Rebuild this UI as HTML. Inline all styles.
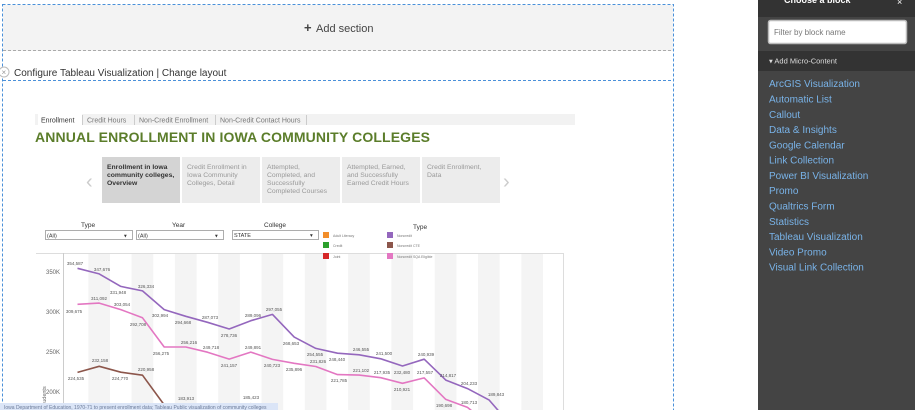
<!DOCTYPE html>
<html><head><meta charset="utf-8"><style>
body{margin:0;width:915px;height:410px;overflow:hidden;background:#fff;font-family:"Liberation Sans",sans-serif}
svg{display:block}
</style></head><body>
<svg width="915" height="410" viewBox="0 0 915 410" xmlns="http://www.w3.org/2000/svg" font-family="Liberation Sans, sans-serif">
<rect x="0" y="0" width="675" height="410" fill="#fff"/>
<rect x="3" y="5" width="670" height="46" fill="#f3f3f3"/>
<rect x="2.5" y="4.5" width="671" height="410" fill="none" stroke="#4a90d9" stroke-dasharray="3,2"/>
<line x1="3" y1="50.5" x2="673" y2="50.5" stroke="#aaa" stroke-dasharray="3,2"/>
<line x1="3" y1="80.5" x2="673" y2="80.5" stroke="#4a90d9" stroke-dasharray="3,2"/>
<text x="304" y="32" font-size="13" fill="#444" font-weight="bold">+</text>
<text x="316" y="32" font-size="11" fill="#444">Add section</text>
<circle cx="4" cy="72" r="5" fill="#fff" stroke="#bbb"/>
<text x="1.5" y="75" font-size="8" fill="#999">×</text>
<text x="14" y="76" font-size="10" fill="#333">Configure Tableau Visualization | Change layout</text>
<rect x="35" y="114" width="540" height="11" fill="#f2f2f2"/>
<rect x="38" y="114" width="44" height="11" fill="#fff"/>
<text x="41" y="122.5" font-size="7" fill="#333">Enrollment</text>
<line x1="82.5" y1="115" x2="82.5" y2="125" stroke="#ccc"/>
<text x="87" y="122.5" font-size="7" fill="#777">Credit Hours</text>
<line x1="134.5" y1="115" x2="134.5" y2="125" stroke="#ccc"/>
<text x="139" y="122.5" font-size="7" fill="#777">Non-Credit Enrollment</text>
<line x1="215.5" y1="115" x2="215.5" y2="125" stroke="#ccc"/>
<text x="220" y="122.5" font-size="7" fill="#777">Non-Credit Contact Hours</text>
<line x1="306.5" y1="115" x2="306.5" y2="125" stroke="#ccc"/>
<text x="35" y="142" font-size="14" font-weight="bold" fill="#5b7d2a" textLength="395">ANNUAL ENROLLMENT IN IOWA COMMUNITY COLLEGES</text>
<text x="86" y="188" font-size="20" fill="#ccc">‹</text>
<text x="503" y="188" font-size="20" fill="#ccc">›</text>
<rect x="102" y="157" width="78" height="46" fill="#d4d4d4"/>
<rect x="182" y="157" width="78" height="46" fill="#ececec"/>
<rect x="262" y="157" width="78" height="46" fill="#ececec"/>
<rect x="342" y="157" width="78" height="46" fill="#ececec"/>
<rect x="422" y="157" width="78" height="46" fill="#ececec"/>
<g font-size="6.8">
<text fill="#333" font-weight="bold"><tspan x="107" y="169">Enrollment in Iowa</tspan><tspan x="107" y="177">community colleges,</tspan><tspan x="107" y="185">Overview</tspan></text>
<text fill="#999"><tspan x="187" y="169">Credit Enrollment in</tspan><tspan x="187" y="177">Iowa Community</tspan><tspan x="187" y="185">Colleges, Detail</tspan></text>
<text fill="#999"><tspan x="267" y="169">Attempted,</tspan><tspan x="267" y="177">Completed, and</tspan><tspan x="267" y="185">Successfully</tspan><tspan x="267" y="193">Completed Courses</tspan></text>
<text fill="#999"><tspan x="347" y="169">Attempted, Earned,</tspan><tspan x="347" y="177">and Successfully</tspan><tspan x="347" y="185">Earned Credit Hours</tspan></text>
<text fill="#999"><tspan x="427" y="169">Credit Enrollment,</tspan><tspan x="427" y="177">Data</tspan></text>
</g>
<g font-size="6.5" fill="#333">
<text x="81" y="227">Type</text><text x="172" y="227">Year</text><text x="264" y="227">College</text><text x="413" y="229">Type</text>
</g>
<g fill="#fff" stroke="#999" stroke-width="0.8">
<rect x="45.5" y="230.5" width="87" height="9"/><rect x="136.5" y="230.5" width="87" height="9"/><rect x="232.5" y="230.5" width="86" height="9"/>
</g>
<g font-size="5.5" fill="#333">
<text x="47" y="237.5">(All)</text><text x="138" y="237.5">(All)</text><text x="234" y="237">STATE</text>
<text x="124" y="237.5">▾</text><text x="215" y="237.5">▾</text><text x="310" y="237">▾</text>
</g>
<line x1="36" y1="253.5" x2="564" y2="253.5" stroke="#ddd"/>
<line x1="563.5" y1="253" x2="563.5" y2="410" stroke="#ddd"/>
<line x1="63.5" y1="253" x2="63.5" y2="410" stroke="#ccc"/>
<g fill="#f4f4f4">
<rect x="88.3" y="254" width="21.7" height="156"/><rect x="131.6" y="254" width="21.7" height="156"/><rect x="174.9" y="254" width="21.7" height="156"/><rect x="218.2" y="254" width="21.7" height="156"/><rect x="261.5" y="254" width="21.7" height="156"/><rect x="304.8" y="254" width="21.7" height="156"/><rect x="348.1" y="254" width="21.7" height="156"/><rect x="391.4" y="254" width="21.7" height="156"/><rect x="434.7" y="254" width="21.7" height="156"/><rect x="478" y="254" width="21.7" height="156"/><rect x="521.3" y="254" width="21.7" height="156"/>
</g>
<g font-size="3.5" fill="#777">
<rect x="323" y="232" width="6" height="6" fill="#f28e2b"/><text x="333" y="237">Adult Literacy</text>
<rect x="323" y="242" width="6" height="6" fill="#2ca02c"/><text x="333" y="247">Credit</text>
<rect x="323" y="253" width="6" height="6" fill="#d62728"/><text x="333" y="258">Joint</text>
<rect x="387" y="232" width="6" height="6" fill="#9467bd"/><text x="397" y="237">Noncredit</text>
<rect x="387" y="242" width="6" height="6" fill="#8c564b"/><text x="397" y="247">Noncredit CTE</text>
<rect x="387" y="253" width="6" height="6" fill="#e377c2"/><text x="397" y="258">Noncredit SQA Eligible</text>
</g>
<g font-size="6" fill="#666" text-anchor="end">
<text x="60" y="274">350K</text><text x="60" y="314">300K</text><text x="60" y="354">250K</text><text x="60" y="394">200K</text>
</g>
<text transform="translate(46,408) rotate(-90)" font-size="5.5" fill="#666">Students</text>
<g fill="none" stroke-width="1.6" stroke-linejoin="round">
<polyline stroke="#9467bd" points="77.5,268.3 99.2,273.9 120.8,286.4 142.5,290.9 164.2,309.6 185.8,316.3 207.5,322.3 229.2,329 250.8,320.7 272.5,314.4 294.2,337.1 315.8,348.4 337.5,353.2 359.2,354.8 380.8,358.8 402.5,366 424.2,359.2 445.8,380.1 467.5,388.6 489.2,400.1 510.8,425"/>
<polyline stroke="#e377c2" points="77.5,304.3 99.2,303.1 120.8,309.6 142.5,317.8 164.2,347 185.8,347 207.5,352.2 229.2,359.1 250.8,352.1 272.5,359.4 294.2,363.3 315.8,366.5 337.5,374.6 359.2,375.1 380.8,377.7 402.5,383.3 424.2,377.9 445.8,399.4 467.5,407.4 489.2,425"/>
<polyline stroke="#8c564b" points="77.5,372.4 99.2,366.3 120.8,372.2 142.5,375.2 164.2,404.9 185.8,404.9 207.5,420 229.2,420 250.8,403.7 272.5,420"/>
</g>
<g font-size="4.5" fill="#555" text-anchor="middle">
<text x="75" y="265">354,587</text><text x="102" y="271">347,676</text><text x="118" y="294">331,948</text><text x="146" y="288">326,334</text><text x="160" y="317">302,994</text><text x="183" y="324">294,668</text><text x="210" y="319">287,073</text><text x="229" y="337">278,736</text><text x="253" y="317">289,096</text><text x="274" y="311">297,055</text><text x="291" y="345">268,653</text><text x="315" y="356">254,555</text><text x="337" y="361">248,440</text><text x="361" y="351">246,555</text><text x="384" y="355">241,500</text><text x="402" y="374">232,480</text><text x="426" y="356">240,939</text><text x="448" y="377">214,817</text><text x="469" y="385">204,233</text><text x="496" y="396">189,843</text>
<text x="74" y="313">309,675</text><text x="99" y="300">311,092</text><text x="122" y="306">303,054</text><text x="138" y="326">292,708</text><text x="161" y="355">256,275</text><text x="189" y="344">256,216</text><text x="211" y="349">249,718</text><text x="229" y="367">241,157</text><text x="253" y="349">249,891</text><text x="272" y="367">240,723</text><text x="294" y="371">235,896</text><text x="318" y="363">231,826</text><text x="339" y="382">221,785</text><text x="361" y="372">221,102</text><text x="382" y="374">217,935</text><text x="402" y="391">210,921</text><text x="425" y="374">217,557</text><text x="444" y="407">190,698</text><text x="469" y="404">180,713</text>
<text x="76" y="380">224,535</text><text x="100" y="362">232,158</text><text x="120" y="380">224,770</text><text x="146" y="371">220,958</text><text x="186" y="400">183,913</text><text x="251" y="399">185,423</text>
</g>
<rect x="0" y="403" width="278" height="7" fill="#dbe5f7"/>
<text x="4" y="409" font-size="5" fill="#6a7a99">Iowa Department of Education, 1970-71 to present enrollment data; Tableau Public visualization of community colleges</text>
<rect x="758" y="0" width="157" height="410" fill="#444"/>
<rect x="758" y="0" width="157" height="17" fill="#333"/>
<text x="784" y="3" font-size="9" fill="#fff" font-weight="bold">Choose a block</text>
<text x="897" y="5" font-size="9" fill="#fff">×</text>
<rect x="768.5" y="20.5" width="138" height="23" rx="2" fill="#fff" stroke="#bbb" stroke-width="1.5"/>
<text x="774" y="35" font-size="8" fill="#777">Filter by block name</text>
<rect x="758" y="51" width="157" height="20" fill="#333"/>
<text x="769" y="63.5" font-size="7.5" fill="#ddd">▾ Add Micro-Content</text>
<g font-size="10" fill="#79b3e8">
<text x="769" y="87">ArcGIS Visualization</text><text x="769" y="102.5">Automatic List</text><text x="769" y="117.8">Callout</text><text x="769" y="133">Data &amp; Insights</text><text x="769" y="148.3">Google Calendar</text><text x="769" y="163.6">Link Collection</text><text x="769" y="178.9">Power BI Visualization</text><text x="769" y="194.2">Promo</text><text x="769" y="209.5">Qualtrics Form</text><text x="769" y="224.8">Statistics</text><text x="769" y="240.1">Tableau Visualization</text><text x="769" y="255.4">Video Promo</text><text x="769" y="270.7">Visual Link Collection</text>
</g>
</svg>
</body></html>
